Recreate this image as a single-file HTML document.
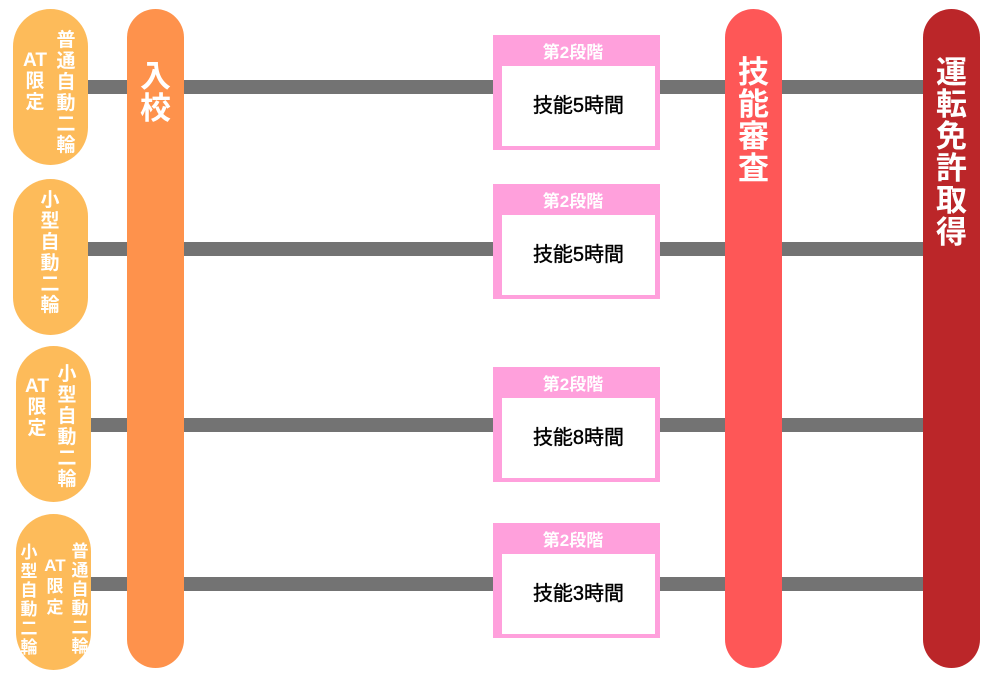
<!DOCTYPE html>
<html><head><meta charset="utf-8"><style>
body{margin:0;width:1005px;height:679px;background:#fff;position:relative;overflow:hidden;font-family:"Liberation Sans","Noto Sans CJK JP",sans-serif;font-weight:bold}
.line{position:absolute;height:14px;background:#737373;left:88px;width:840px}
.pill{position:absolute;background:#fdbb5a;border-radius:38px;width:75px;height:156px}
.v{position:absolute;color:#fff;text-align:center;line-height:21px;font-size:19px}
.bar{position:absolute;width:57px;top:9px;height:659px;border-radius:29px}
.bt{position:absolute;left:0;width:57px;color:#fff;text-align:center;font-size:31px;line-height:32px;top:48px}
.box{position:absolute;left:493px;width:167px;height:115px;background:#ffa0dc}
.box .h{position:absolute;left:0;width:160px;top:3px;text-align:center;color:#fff;font-size:17px}
.box .w{position:absolute;left:9px;top:31px;width:153px;height:80px;background:#fff;color:#000;font-size:20px;font-weight:normal;-webkit-text-stroke:0.4px #000;line-height:80px;text-align:center}
</style></head><body>
<div class="line" style="top:80px"></div>
<div class="line" style="top:242px"></div>
<div class="line" style="top:418px"></div>
<div class="line" style="top:577px"></div>

<div class="pill" style="left:13px;top:9px"></div>
<div class="v" style="left:55px;top:30px;width:22px">普<br>通<br>自<br>動<br>二<br>輪</div>
<div class="v" style="left:20px;top:50px;width:30px">AT<br>限<br>定</div>

<div class="pill" style="left:13px;top:179px"></div>
<div class="v" style="left:39px;top:190px;width:22px">小<br>型<br>自<br>動<br>二<br>輪</div>

<div class="pill" style="left:16px;top:346px"></div>
<div class="v" style="left:56px;top:364px;width:22px">小<br>型<br>自<br>動<br>二<br>輪</div>
<div class="v" style="left:22px;top:376px;width:30px">AT<br>限<br>定</div>

<div class="pill" style="left:16px;top:514px"></div>
<div class="v" style="left:69px;top:542px;width:22px;font-size:17px;line-height:19px">普<br>通<br>自<br>動<br>二<br>輪</div>
<div class="v" style="left:41px;top:555px;width:28px;font-size:17px;line-height:21px">AT<br>限<br>定</div>
<div class="v" style="left:17px;top:543px;width:24px;font-size:17px;line-height:19px">小<br>型<br>自<br>動<br>二<br>輪</div>

<div class="bar" style="left:127px;background:#fe924c"><div class="bt" style="top:52px">入<br>校</div></div>
<div class="bar" style="left:725px;background:#fe5757"><div class="bt">技<br>能<br>審<br>査</div></div>
<div class="bar" style="left:923px;background:#bb2629"><div class="bt">運<br>転<br>免<br>許<br>取<br>得</div></div>

<div class="box" style="top:35px"><div class="h">第2段階</div><div class="w">技能5時間</div></div>
<div class="box" style="top:184px"><div class="h">第2段階</div><div class="w">技能5時間</div></div>
<div class="box" style="top:367px"><div class="h">第2段階</div><div class="w">技能8時間</div></div>
<div class="box" style="top:523px"><div class="h">第2段階</div><div class="w">技能3時間</div></div>
</body></html>
